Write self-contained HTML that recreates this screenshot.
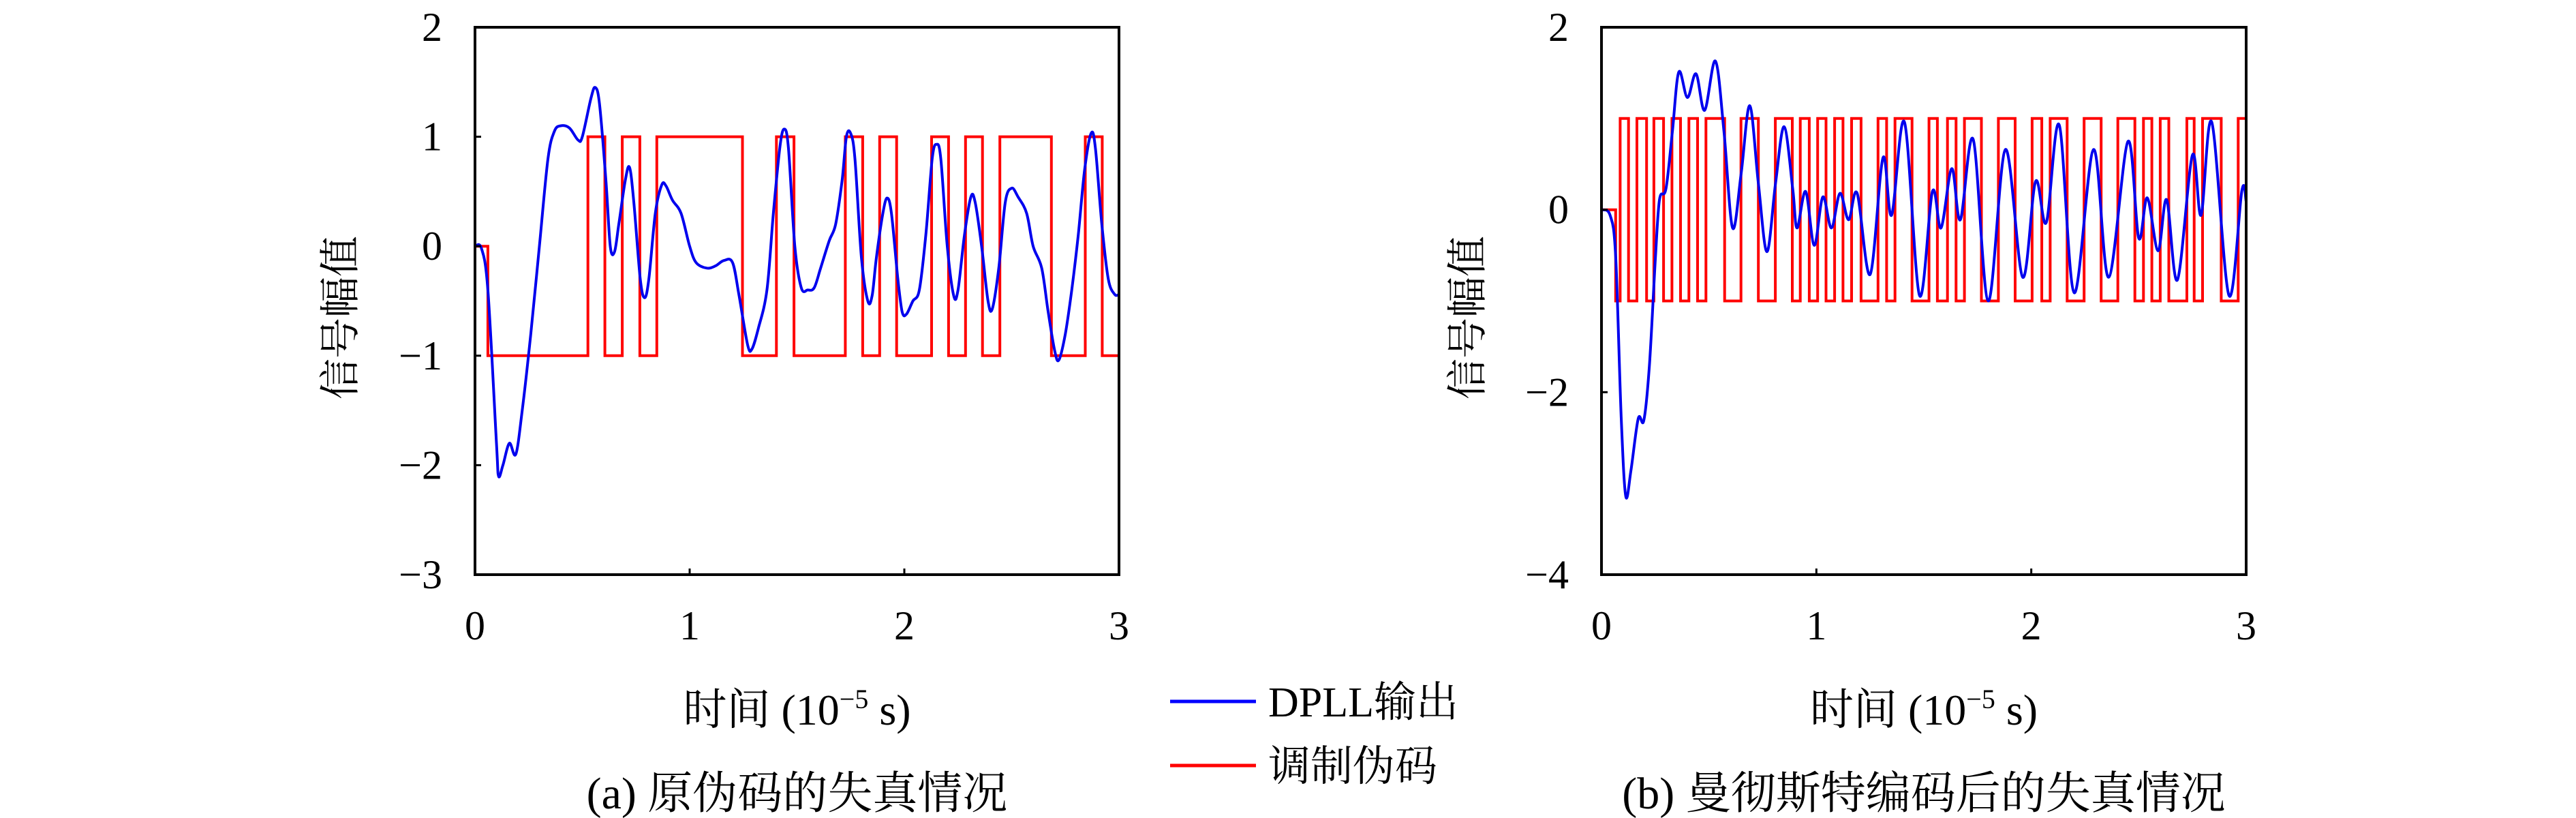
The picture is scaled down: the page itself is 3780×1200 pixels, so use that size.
<!DOCTYPE html>
<html><head><meta charset="utf-8">
<style>
html,body{margin:0;padding:0;background:#fff;}
svg{display:block;}
text{font-family:"Liberation Serif","Noto Serif CJK SC",serif;fill:#000;}
</style></head>
<body>
<svg id="fig" width="3780" height="1200" viewBox="0 0 3780 1200" xmlns="http://www.w3.org/2000/svg">
<g id="pa"></g>
<g id="pb"></g>
<g>
  <line x1="1717" y1="1029" x2="1843" y2="1029" stroke="#0000ff" stroke-width="5"/>
  <text x="1861" y="1051" font-size="62">DPLL输出</text>
  <line x1="1717" y1="1123" x2="1843" y2="1123" stroke="#ff0000" stroke-width="5"/>
  <text x="1861" y="1145" font-size="62">调制伪码</text>
</g>
</svg>
<script>
// Panel (a) data
const aBlueX = [0,0.03,0.06,0.1,0.11,0.13,0.16,0.19,0.22,0.26,0.3,0.34,0.37,0.4,0.44,0.48,0.5,0.54,0.56,0.58,0.61,0.63,0.65,0.67,0.7,0.72,0.74,0.77,0.79,0.81,0.84,0.87,0.89,0.92,0.96,1.0,1.03,1.08,1.12,1.16,1.2,1.23,1.27,1.29,1.32,1.36,1.39,1.42,1.44,1.46,1.49,1.52,1.55,1.58,1.61,1.65,1.68,1.71,1.73,1.75,1.77,1.8,1.83,1.85,1.87,1.9,1.92,1.94,1.97,1.99,2.01,2.04,2.07,2.1,2.13,2.15,2.17,2.2,2.23,2.25,2.28,2.31,2.33,2.36,2.39,2.41,2.44,2.47,2.5,2.53,2.57,2.6,2.64,2.67,2.7,2.72,2.75,2.78,2.81,2.84,2.87,2.89,2.92,2.95,2.98,3.0];
const aBlueY = [0,-0.02,-0.4,-1.8,-2.1,-2.0,-1.8,-1.9,-1.5,-0.8,0,0.8,1.05,1.1,1.08,0.97,1.0,1.35,1.45,1.3,0.6,0,-0.05,0.2,0.6,0.72,0.4,-0.3,-0.47,-0.3,0.3,0.56,0.55,0.42,0.3,0.0,-0.15,-0.2,-0.18,-0.13,-0.15,-0.45,-0.9,-0.94,-0.75,-0.4,0.3,0.9,1.07,0.9,0,-0.38,-0.4,-0.38,-0.2,0.05,0.2,0.6,1.0,1.03,0.8,-0.1,-0.5,-0.45,-0.1,0.3,0.44,0.3,-0.3,-0.6,-0.62,-0.5,-0.4,0.1,0.8,0.93,0.8,0,-0.45,-0.4,0.1,0.45,0.4,0,-0.5,-0.57,-0.2,0.4,0.53,0.45,0.3,0,-0.2,-0.6,-0.95,-1.04,-0.8,-0.4,0.1,0.7,1.03,0.9,0.2,-0.3,-0.44,-0.44];
const aEdgeT = [0,0.06,0.526,0.605,0.686,0.768,0.847,1.246,1.404,1.486,1.725,1.806,1.885,1.964,2.127,2.206,2.285,2.364,2.445,2.685,2.843,2.922];
const aLevel = [0,-1,1,-1,1,-1,1,-1,1,-1,1,-1,1,-1,1,-1,1,-1,1,-1,1,-1];
const aYTicks = [2,1,0,-1,-2,-3];
const aXTicks = [0,1,2,3];

// Panel (b) data
const bBlueX = [0,0.04,0.066,0.092,0.113,0.137,0.171,0.197,0.223,0.25,0.27,0.30,0.33,0.36,0.40,0.44,0.48,0.53,0.57,0.61,0.65,0.69,0.73,0.77,0.81,0.85,0.89,0.91,0.95,0.99,1.03,1.07,1.11,1.15,1.19,1.25,1.31,1.35,1.41,1.48,1.54,1.58,1.63,1.67,1.73,1.80,1.88,1.96,2.02,2.07,2.13,2.20,2.29,2.36,2.45,2.50,2.54,2.59,2.63,2.68,2.75,2.79,2.84,2.92,2.98,3];
const bBlueY = [0,-0.06,-0.51,-2.29,-3.14,-2.86,-2.29,-2.31,-1.71,-0.57,0.11,0.23,0.86,1.51,1.23,1.49,1.09,1.63,0.86,-0.2,0.4,1.14,0.29,-0.46,0.29,0.91,0.23,-0.2,0.2,-0.39,0.14,-0.2,0.18,-0.11,0.18,-0.71,0.57,-0.06,0.96,-0.94,0.2,-0.2,0.45,-0.11,0.77,-1.0,0.66,-0.74,0.31,-0.14,0.93,-0.91,0.66,-0.74,0.75,-0.31,0.13,-0.45,0.11,-0.77,0.6,-0.06,0.96,-0.94,0.21,0.09];
const bEdgeT = [0,0.066,0.087,0.126,0.165,0.210,0.244,0.289,0.328,0.368,0.407,0.447,0.486,0.573,0.649,0.730,0.809,0.888,0.925,0.967,1.006,1.045,1.085,1.124,1.164,1.208,1.287,1.327,1.366,1.445,1.524,1.563,1.610,1.650,1.689,1.768,1.847,1.925,2.004,2.049,2.088,2.167,2.246,2.325,2.403,2.482,2.522,2.561,2.600,2.640,2.724,2.758,2.797,2.884,2.963];
const bLevel = [0,-1,1,-1,1,-1,1,-1,1,-1,1,-1,1,-1,1,-1,1,-1,1,-1,1,-1,1,-1,1,-1,1,-1,1,-1,1,-1,1,-1,1,-1,1,-1,1,-1,1,-1,1,-1,1,-1,1,-1,1,-1,1,-1,1,-1,1];
const bYTicks = [2,0,-2,-4];
const bXTicks = [0,1,2,3];

const NS = "http://www.w3.org/2000/svg";
function mk(tag, attrs, parent){
  const e = document.createElementNS(NS, tag);
  for (const k in attrs) e.setAttribute(k, attrs[k]);
  parent.appendChild(e);
  return e;
}
function smoothPath(pts){
  let d = "M" + pts[0][0].toFixed(1) + "," + pts[0][1].toFixed(1);
  for (let i=0;i<pts.length-1;i++){
    const p0 = pts[Math.max(0,i-1)], p1 = pts[i], p2 = pts[i+1], p3 = pts[Math.min(pts.length-1,i+2)];
    const c1x = p1[0] + (p2[0]-p0[0])/6, c1y = p1[1] + (p2[1]-p0[1])/6;
    const c2x = p2[0] - (p3[0]-p1[0])/6, c2y = p2[1] - (p3[1]-p1[1])/6;
    d += " C" + c1x.toFixed(1)+","+c1y.toFixed(1)+" "+c2x.toFixed(1)+","+c2y.toFixed(1)+" "+p2[0].toFixed(1)+","+p2[1].toFixed(1);
  }
  return d;
}
function drawPanel(g, cfg){
  const L=cfg.left, R=cfg.right, T=40, B=843;
  const sx = v => L + (v - 0) / 3 * (R - L);
  const sy = v => T + (cfg.ymax - v) / (cfg.ymax - cfg.ymin) * (B - T);
  let d = "";
  for (let i=0;i<cfg.edges.length;i++){
    const x0 = sx(cfg.edges[i]);
    const x1 = sx(i+1<cfg.edges.length ? cfg.edges[i+1] : 3);
    const y = sy(cfg.levels[i]);
    d += (i===0 ? "M" : " L") + x0.toFixed(1) + "," + y.toFixed(1) + " L" + x1.toFixed(1) + "," + y.toFixed(1);
  }
  const red = mk("path", {d:d, fill:"none", stroke:"#ff0000", "stroke-width":4, "stroke-linejoin":"miter"}, g);
  
  
  const pts = cfg.bx.map((x,i)=>[sx(x), sy(cfg.by[i])]);
  const blue = mk("path", {d:smoothPath(pts), fill:"none", stroke:"#0000ee", "stroke-width":4}, g);
  
  
  const fr = mk("rect", {x:L, y:T, width:R-L, height:B-T, fill:"none", stroke:"#000", "stroke-width":4}, g);
  
  
  cfg.yt.forEach(v=>{
    const y = sy(v);
    const tk = mk("line", {x1:L, y1:y, x2:L+9, y2:y, stroke:"#000", "stroke-width":3}, g);
    
    
    const t = mk("text", {x:L-48, y:y+20, "font-size":60, "text-anchor":"end"}, g);
    t.textContent = v < 0 ? "\u2212" + Math.abs(v) : String(v);
    
    
  });
  cfg.xt.forEach(v=>{
    const x = sx(v);
    const tk = mk("line", {x1:x, y1:B, x2:x, y2:B-9, stroke:"#000", "stroke-width":3}, g);
    
    
    const t = mk("text", {x:x, y:938, "font-size":60, "text-anchor":"middle"}, g);
    t.textContent = String(v);
    
    
  });
  const yt = mk("text", {x:0, y:0, "font-size":60, "text-anchor":"middle", transform:"translate("+(cfg.ytx+21)+",466) rotate(-90)"}, g);
  yt.textContent = "信号幅值";
  
  
  const xc = (L+R)/2;
  const xt = mk("text", {x:xc, y:1063, "font-size":64, "text-anchor":"middle"}, g);
  xt.innerHTML = '时间 (10<tspan dy="-24" font-size="40">\u22125</tspan><tspan dy="24"> s)</tspan>';
  
  
  const cp = mk("text", {x:xc, y:1186, "font-size":66, "text-anchor":"middle"}, g);
  cp.textContent = cfg.caption;
  
  
}
drawPanel(document.getElementById("pa"), {left:697,right:1642,ymin:-3,ymax:2,bx:aBlueX,by:aBlueY,edges:aEdgeT,levels:aLevel,yt:aYTicks,xt:aXTicks,ytx:499,caption:"(a) 原伪码的失真情况"});
drawPanel(document.getElementById("pb"), {left:2350,right:3296,ymin:-4,ymax:2,bx:bBlueX,by:bBlueY,edges:bEdgeT,levels:bLevel,yt:bYTicks,xt:bXTicks,ytx:2153,caption:"(b) 曼彻斯特编码后的失真情况"});
</script>
</body></html>
